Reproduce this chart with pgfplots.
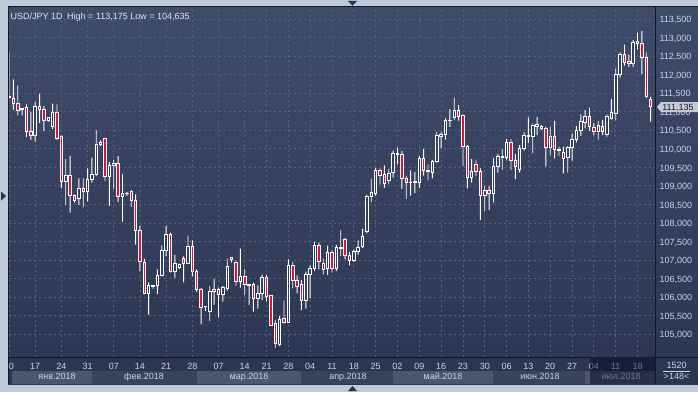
\documentclass[border=0pt]{standalone}
\usepackage{pgfplots}
\pgfplotsset{compat=1.18}
\usepackage{pgfplotstable}
\usepackage{fontspec}
\setmainfont{Liberation Sans}
\definecolor{outer}{HTML}{C0CAD8}
\definecolor{bgtop}{HTML}{3F4C69}
\definecolor{bgbot}{HTML}{2A3552}
\definecolor{bodyin}{HTML}{34405C}
\definecolor{gridc}{HTML}{56637F}
\definecolor{candred}{HTML}{E0123C}
\definecolor{labc}{HTML}{C8D3E4}
\definecolor{framec}{HTML}{111826}
\definecolor{bandlight}{HTML}{4A5672}
\definecolor{banddark}{HTML}{38445F}
\definecolor{tagc}{HTML}{C5CCD6}
\definecolor{arrowc}{HTML}{2A3450}

\pgfplotstableread{
i o h l c
0 111.38 112.59 111.33 111.42
1 111.35 111.87 111.05 111.22
2 111.22 111.71 110.90 111.04
3 111.05 111.09 110.90 111.08
4 111.11 111.20 110.32 110.46
5 110.46 110.99 110.24 110.37
6 110.37 111.26 110.19 111.14
7 111.14 111.49 110.70 111.06
8 111.06 111.15 110.48 110.77
9 110.77 110.84 110.72 110.84
10 110.61 111.22 110.54 110.97
11 110.97 111.20 110.24 110.28
12 110.34 110.36 108.95 109.13
13 109.13 109.72 108.49 109.29
14 109.29 109.81 108.28 108.73
15 108.73 108.77 108.55 108.62
16 108.66 109.20 108.49 108.94
17 108.94 109.20 108.42 108.85
18 108.85 109.47 108.58 109.18
19 109.18 109.76 109.09 109.31
20 109.30 110.50 109.26 110.12
21 110.11 110.23 110.08 110.17
22 110.28 110.28 109.13 109.25
23 109.25 109.65 108.46 109.56
24 109.55 109.70 108.91 109.61
25 109.60 109.80 108.57 108.71
26 108.71 109.31 108.03 108.80
27 108.80 108.84 108.73 108.79
28 108.85 108.89 108.43 108.60
29 108.60 108.77 107.42 107.81
30 107.81 107.92 106.71 106.96
31 106.95 107.04 106.08 106.11
32 106.10 106.40 105.53 106.31
33 106.30 106.33 106.22 106.31
34 106.32 106.75 106.08 106.58
35 106.58 107.40 106.56 107.27
36 107.25 107.92 107.11 107.70
37 107.69 107.74 106.67 106.69
38 106.69 107.14 106.53 106.90
39 106.79 106.91 106.75 106.88
40 107.04 107.10 106.40 106.92
41 106.92 107.66 106.90 107.37
42 107.38 107.53 106.56 106.69
43 106.69 106.75 106.15 106.20
44 106.22 106.25 105.27 105.72
45 105.74 105.76 105.63 105.75
46 105.61 106.30 105.36 106.15
47 106.15 106.49 105.80 106.22
48 106.22 106.26 105.45 106.07
49 106.07 106.30 105.88 106.26
50 106.24 107.04 106.17 106.83
51 107.03 107.07 106.93 107.06
52 106.93 106.99 106.30 106.42
53 106.42 107.31 106.26 106.57
54 106.57 106.75 106.06 106.34
55 106.32 106.36 105.79 106.35
56 106.34 106.39 105.61 105.96
57 105.96 106.32 105.69 106.10
58 106.10 106.61 105.92 106.52
59 106.52 106.61 105.88 106.03
60 106.05 106.06 105.24 105.25
61 105.29 105.38 104.635 104.75
62 104.73 105.49 104.68 105.40
63 105.44 105.91 105.29 105.33
64 105.33 107.02 105.31 106.86
65 106.86 106.95 106.24 106.45
66 106.45 106.59 106.10 106.28
67 106.34 106.46 105.65 105.90
68 105.90 106.69 105.69 106.61
69 106.60 106.86 105.97 106.77
70 106.77 107.50 106.70 107.39
71 107.39 107.47 106.75 106.96
72 106.90 107.04 106.61 106.74
73 106.77 107.39 106.60 107.20
74 107.20 107.27 106.66 106.78
75 106.78 107.41 106.70 107.33
76 107.32 107.80 107.11 107.34
77 107.56 107.59 107.02 107.13
78 107.13 107.22 106.86 106.99
79 107.00 107.29 106.95 107.22
80 107.22 107.53 107.15 107.35
81 107.36 107.85 107.33 107.63
82 107.76 108.76 107.72 108.71
83 108.71 109.19 108.56 108.82
84 108.80 109.48 108.74 109.41
85 109.41 109.47 109.04 109.28
86 109.30 109.55 108.95 109.06
87 109.16 109.46 109.04 109.33
88 109.35 109.95 109.22 109.87
89 109.87 110.03 109.58 109.86
90 109.86 109.94 108.92 109.19
91 109.19 109.28 108.65 109.10
92 109.08 109.42 108.74 109.09
93 109.09 109.37 108.81 109.11
94 109.10 109.80 108.95 109.74
95 109.74 110.00 109.28 109.41
96 109.41 109.58 109.15 109.39
97 109.35 109.70 109.20 109.66
98 109.65 110.46 109.62 110.35
99 110.33 110.45 110.01 110.39
100 110.39 110.82 110.25 110.77
101 110.76 111.07 110.59 110.77
102 110.85 111.38 110.77 111.04
103 111.04 111.18 110.76 110.86
104 110.90 110.93 109.54 110.06
105 110.07 110.10 108.93 109.23
106 109.23 109.72 109.09 109.40
107 109.58 109.71 109.27 109.38
108 109.40 109.47 108.08 108.74
109 108.74 109.00 108.33 108.87
110 108.88 109.00 108.35 108.80
111 108.80 109.74 108.55 109.52
112 109.52 109.86 109.36 109.80
113 109.77 110.00 109.43 109.80
114 109.77 110.26 109.71 110.17
115 110.17 110.26 109.43 109.68
116 109.68 109.86 109.18 109.52
117 109.43 110.10 109.36 110.01
118 110.01 110.44 109.95 110.36
119 110.34 110.85 110.16 110.36
120 110.34 110.68 109.89 110.63
121 110.61 110.86 110.37 110.65
122 110.60 110.64 110.50 110.54
123 110.55 110.59 109.52 110.04
124 110.04 110.59 109.83 110.34
125 110.34 110.75 109.74 109.98
126 109.98 110.06 109.81 109.96
127 109.90 110.06 109.34 109.74
128 109.76 110.07 109.36 110.04
129 110.04 110.41 109.68 110.26
130 110.26 110.61 110.17 110.50
131 110.50 110.93 110.35 110.73
132 110.71 111.04 110.55 110.88
133 110.88 111.11 110.48 110.59
134 110.58 110.70 110.37 110.48
135 110.46 110.75 110.25 110.64
136 110.61 110.77 110.37 110.46
137 110.39 110.93 110.32 110.86
138 110.82 111.34 110.79 110.98
139 110.95 112.17 110.77 112.00
140 112.00 112.60 111.92 112.54
141 112.54 112.81 112.24 112.34
142 112.35 112.54 112.21 112.30
143 112.30 112.93 112.21 112.87
144 112.88 113.13 112.68 112.84
145 112.84 113.175 112.01 112.46
146 112.46 112.60 111.36 111.40
147 111.33 111.40 110.73 111.135
}\ohlc

\pgfplotsset{
  chartaxis/.style={
    at={(9pt,35pt)}, anchor=south west, scale only axis,
    width=646pt, height=350pt,
    xmin=0, xmax=148, ymin=104.388, ymax=113.822,
  }
}

\begin{document}
\begin{tikzpicture}[x=1pt,y=1pt]
\useasboundingbox (0,0) rectangle (698,392);
\fill[outer] (0,0) rectangle (698,392);
\shade[top color=bgtop, bottom color=bgbot] (8,8) rectangle (698,385);
% month bands
\fill[bandlight] (12,8) rectangle (91.5,21);
\fill[banddark] (91.5,8) rectangle (196.5,21);
\fill[bandlight] (196.5,8) rectangle (300.5,21);
\fill[banddark] (300.5,8) rectangle (392.5,21);
\fill[bandlight] (392.5,8) rectangle (492.5,21);
\fill[banddark] (492.5,8) rectangle (585,21);
\fill[bandlight] (585,8) rectangle (655,21);
\begin{scope}[font=\fontsize{9}{10}\selectfont, text=labc]
\node[anchor=base] at (57,12.7) {янв.2018};
\node[anchor=base] at (144,12.7) {фев.2018};
\node[anchor=base] at (249,12.7) {мар.2018};
\node[anchor=base] at (348,12.7) {апр.2018};
\node[anchor=base] at (443,12.7) {май.2018};
\node[anchor=base] at (540,12.7) {июн.2018};
\node[anchor=base] at (621,12.7) {июл.2018};
\end{scope}

% grid and tick labels
\begin{axis}[chartaxis,
  axis line style={draw=none},
  major tick length=0pt,
  grid=major,
  grid style={gridc, line width=0.8pt, dash pattern=on 2pt off 3pt},
  xtick={0,6,12,18,24,30,36,42,48,54,59,64,69,74,79,84,89,94,99,104,109,114,119,124,129,134,139,144},
  xticklabels={10,17,24,31,07,14,21,28,07,14,21,28,04,11,18,25,02,09,16,23,30,06,13,20,27,04,11,18},
  ytick={105,105.5,106,106.5,107,107.5,108,108.5,109,109.5,110,110.5,111,111.5,112,112.5,113,113.5},
  yticklabels={{105,000},{105,500},{106,000},{106,500},{107,000},{107,500},{108,000},{108,500},{109,000},{109,500},{110,000},{110,500},{111,000},{111,500},{112,000},{112,500},{113,000},{113,500}},
  yticklabel pos=right,
  tick label style={font=\fontsize{9}{10}\selectfont, text=labc},
  xticklabel style={anchor=base, yshift=-12.3pt},
  yticklabel style={anchor=base west, yshift=-3.7pt, xshift=1pt},
]
\addplot[draw=none, forget plot] coordinates {(0,110) (148,110)};
\end{axis}

% wicks: low .. high
\begin{axis}[chartaxis, hide axis, clip=true, ybar stacked, bar width=0.9pt]
\addplot[draw=none, fill=none] table[x=i, y=l] {\ohlc};
\addplot[draw=none, fill=white] table[x=i, y expr={\thisrow{h}-\thisrow{l}}] {\ohlc};
\end{axis}

% bodies: open .. close
\begin{axis}[chartaxis, hide axis, clip=true, ybar stacked, bar width=2.5pt]
\addplot[draw=none, fill=none] table[x=i, y expr={min(\thisrow{o},\thisrow{c})}] {\ohlc};
\addplot[draw=white, line width=0.9pt, fill=bodyin] table[x=i, y expr={max(\thisrow{c}-\thisrow{o},0)}] {\ohlc};
\addplot[draw=white, line width=0.9pt, fill=candred] table[x=i, y expr={max(\thisrow{o}-\thisrow{c},0)}] {\ohlc};
\end{axis}

% dimmed future region of the date bar
\fill[black!70!blue!40!black, opacity=0.45] (590,8) rectangle (655,35);
% frame lines
\draw[framec, line width=1pt] (8,385) -- (698,385);
\draw[framec, line width=1pt] (8,8) -- (8,385);
\draw[framec, line width=1pt] (8,35) -- (698,35);
\draw[framec, line width=1pt] (655,8) -- (655,385);
% outer strips
\fill[outer] (0,0) rectangle (7.5,392);
\fill[outer] (0,0) rectangle (698,7.5);
\fill[outer] (0,385.5) rectangle (698,392);
% arrows
\fill[arrowc] (348,391) -- (357,391) -- (352.5,386.3) -- cycle;
\fill[arrowc] (348,1) -- (357,1) -- (352.5,6) -- cycle;
\fill[arrowc] (1,200.5) -- (1,191.3) -- (6,195.9) -- cycle;
% price tag
\fill[tagc] (657,285) -- (661,290) -- (698,290) -- (698,280) -- (661,280) -- cycle;
\node[font=\fontsize{9}{10}\selectfont, text=framec, anchor=base] at (678,281.5) {111,135};
% title
\node[font=\fontsize{9}{10}\selectfont, text=labc!60!white, anchor=base west, inner sep=0pt] at (10.5,373) {USD/JPY 1D\enspace High = 113,175 Low = 104,635};
% bottom right box
\node[font=\fontsize{9}{10}\selectfont, text=labc, anchor=base] at (676.5,23.5) {1520};
\draw[labc, line width=0.6pt] (663,21) -- (690,21);
\node[font=\fontsize{9}{10}\selectfont, text=labc, anchor=base] at (676.5,12.7) {>148<};
\end{tikzpicture}
\end{document}
